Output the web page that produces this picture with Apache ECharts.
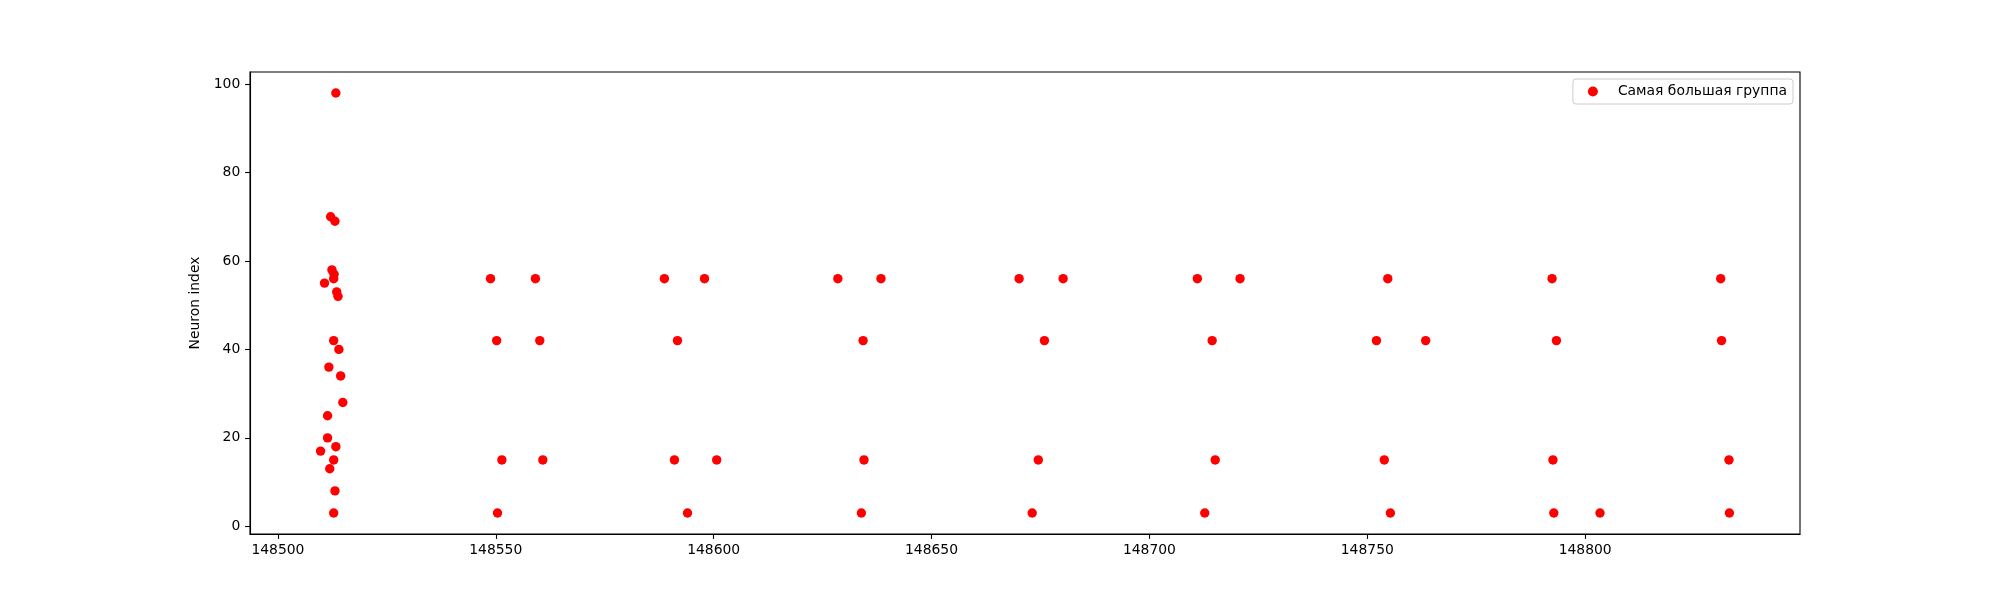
<!DOCTYPE html>
<html>
<head>
<meta charset="utf-8">
<script src="https://cdn.jsdelivr.net/npm/echarts@6/dist/echarts.min.js"></script>
<style>
html, body { margin: 0; padding: 0; background: #fff; }
#chart { width: 2000px; height: 600px; }
</style>
</head>
<body>
<div id="chart"></div>
<script>
// spike times (x) and neuron ids (y) of the largest group
var spikeTimes = [
	148513.3, 148512.1, 148513.1, 148512.4, 148512.9, 148512.8, 148510.7, 148513.5,
	148513.8, 148512.8, 148514.0, 148511.7, 148514.4, 148514.9, 148511.4, 148511.4,
	148513.3, 148509.8, 148512.8, 148511.9, 148513.1, 148512.8,
	148548.8, 148550.2, 148551.4, 148550.4,
	148559.1, 148560.1, 148560.8,
	148588.7, 148591.7, 148591.0, 148594.0,
	148597.9, 148600.7,
	148628.5, 148634.3, 148634.5, 148633.9,
	148638.4,
	148670.1, 148675.9, 148674.5, 148673.1,
	148680.2,
	148711.0, 148714.4, 148715.1, 148712.7,
	148720.8,
	148754.7, 148752.1, 148753.9, 148755.3,
	148763.4,
	148792.4, 148793.4, 148792.6, 148792.8,
	148803.4,
	148831.1, 148831.3, 148833.0, 148833.1
];
var neuronIndex = [
	98, 70, 69, 58, 57, 56, 55, 53,
	52, 42, 40, 36, 34, 28, 25, 20,
	18, 17, 15, 13, 8, 3,
	56, 42, 15, 3,
	56, 42, 15,
	56, 42, 15, 3,
	56, 15,
	56, 42, 15, 3,
	56,
	56, 42, 15, 3,
	56,
	56, 42, 15, 3,
	56,
	56, 42, 15, 3,
	42,
	56, 42, 15, 3,
	3,
	56, 42, 15, 3
];
var xTicks = [148500, 148550, 148600, 148650, 148700, 148750, 148800];
var yTicks = [0, 20, 40, 60, 80, 100];
var seriesName = 'Самая большая группа';

var points = [];
for (var i = 0; i < spikeTimes.length; i++) {
	points.push([spikeTimes[i], neuronIndex[i]]);
}

var font = 'DejaVu Sans';
var mycharts = echarts.init(document.getElementById('chart'));
var option = {
	animation: false,
	backgroundColor: '#fff',
	grid: {
		left: 250,
		right: 200,
		top: 72,
		bottom: 66,
		show: true,
		borderColor: '#000',
		borderWidth: 1.1
	},
	legend: {
		data: [seriesName],
		right: 207,
		top: 79,
		icon: 'circle',
		itemWidth: 10,
		itemHeight: 10,
		padding: [4.5, 6, 4.5, 15],
		borderColor: '#cccccc',
		borderWidth: 1,
		borderRadius: 3,
		backgroundColor: 'rgba(255,255,255,0.8)',
		textStyle: {
			fontFamily: font,
			fontSize: 13.9,
			color: '#000',
			lineHeight: 16,
			padding: [0, 0, 0, 15]
		}
	},
	xAxis: {
		type: 'value',
		min: 148493.6,
		max: 148849.3,
		splitLine: { show: false },
		axisLine: { show: true, onZero: false, lineStyle: { color: '#000', width: 1.1 } },
		axisTick: { show: true, length: 4.9, customValues: xTicks, lineStyle: { color: '#000', width: 1.1 } },
		axisLabel: {
			customValues: xTicks,
			margin: 9.7,
			fontFamily: font,
			fontSize: 13.9,
			color: '#000',
			formatter: function (v) { return String(v); }
		}
	},
	yAxis: {
		type: 'value',
		min: -1.75,
		max: 102.75,
		name: 'Neuron index',
		nameLocation: 'middle',
		nameRotate: 90,
		nameGap: 43,
		nameTextStyle: { fontFamily: font, fontSize: 13.9, color: '#000' },
		splitLine: { show: false },
		axisLine: { show: true, onZero: false, lineStyle: { color: '#000', width: 1.1 } },
		axisTick: { show: true, length: 4.9, customValues: yTicks, lineStyle: { color: '#000', width: 1.1 } },
		axisLabel: {
			customValues: yTicks,
			margin: 9.7,
			fontFamily: font,
			fontSize: 13.9,
			color: '#000',
			formatter: function (v) { return String(v); }
		}
	},
	series: [{
		name: seriesName,
		type: 'scatter',
		symbol: 'circle',
		symbolSize: 9.4,
		itemStyle: { color: '#ff0000', opacity: 1 },
		data: points
	}]
};
mycharts.setOption(option);
</script>
</body>
</html>
